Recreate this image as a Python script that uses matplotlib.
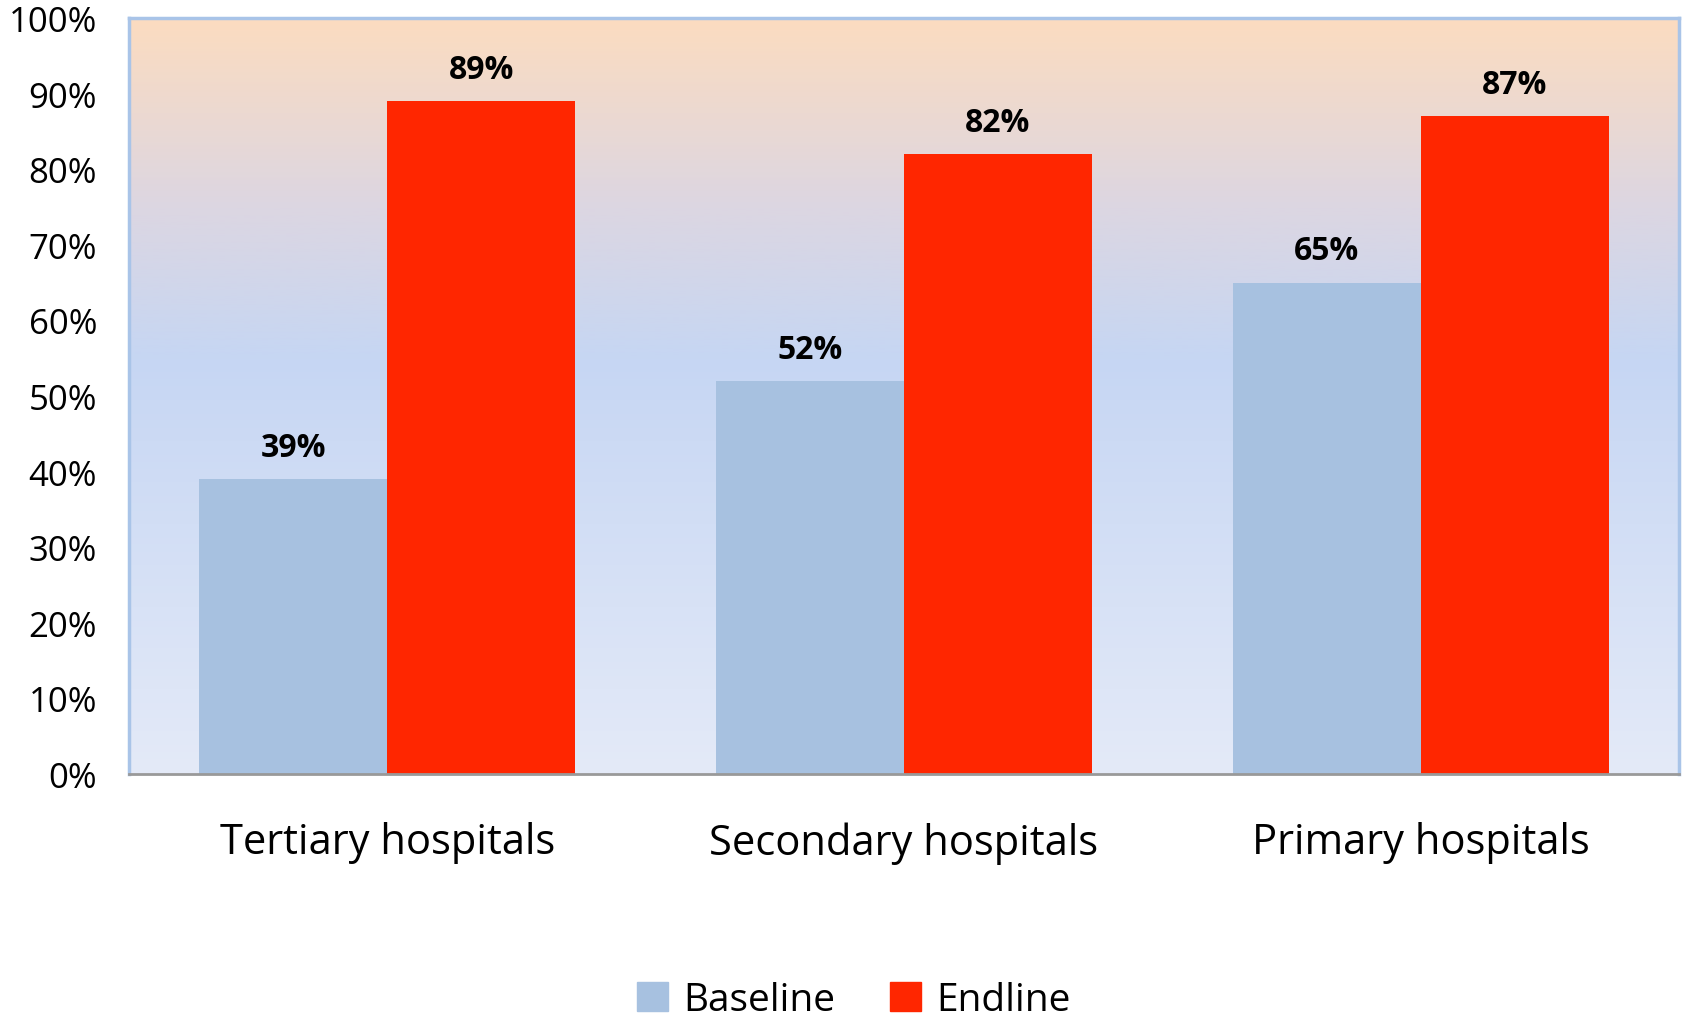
import numpy as np
import matplotlib
matplotlib.use("Agg")
import matplotlib.pyplot as plt
from matplotlib.colors import LinearSegmentedColormap
from matplotlib.patches import Patch

plt.rcParams['font.family'] = ['Open Sans', 'DejaVu Sans']

# Data
categories = ["Tertiary hospitals", "Secondary hospitals", "Primary hospitals"]
baseline = [39, 52, 65]
endline = [89, 82, 87]
series_names = ["Baseline", "Endline"]
yticks = list(range(0, 101, 10))

c_base = "#A7C1E0"
c_end = "#FF2600"

fig = plt.figure(figsize=(16.84, 10.2), dpi=100)
ax = fig.add_axes([129/1684, 1 - 775/1020, (1679-129)/1684, (775-19)/1020])

x = np.arange(len(categories))
w = 0.364

# gradient background (bottom -> top)
grad = LinearSegmentedColormap.from_list("bg", [
    (0.0, (228/255, 234/255, 248/255)),
    (0.55, (198/255, 214/255, 243/255)),
    (0.75, (220/255, 214/255, 226/255)),
    (1.0, (252/255, 220/255, 192/255)),
])
ax.imshow(np.linspace(0, 1, 256).reshape(-1, 1), cmap=grad, aspect='auto',
          origin='lower', extent=[-0.5, len(categories) - 0.5, 0, 100], zorder=0)

ax.bar(x - w/2, baseline, w, color=c_base, zorder=2)
ax.bar(x + w/2, endline, w, color=c_end, zorder=2)

for i in range(len(categories)):
    ax.text(x[i] - w/2, baseline[i] + 2.0, "%d%%" % baseline[i], ha='center', va='bottom',
            fontsize=23, fontweight='bold', zorder=3)
    ax.text(x[i] + w/2, endline[i] + 2.0, "%d%%" % endline[i], ha='center', va='bottom',
            fontsize=23, fontweight='bold', zorder=3)

ax.set_xlim(-0.5, len(categories) - 0.5)
ax.set_ylim(0, 100)
ax.set_yticks(yticks)
ax.set_yticklabels(["%d%%" % t for t in yticks], fontsize=25, va='top')
for lbl in ax.get_yticklabels():
    lbl.set_y(lbl.get_position()[1])
ax.set_xticks(x)
ax.set_xticklabels(categories, fontsize=30)
ax.tick_params(axis='both', length=0)
ax.tick_params(axis='x', pad=34)
ax.tick_params(axis='y', pad=23)
# nudge y labels slightly down like the original
for lbl in ax.get_yticklabels():
    lbl.set_verticalalignment('center')
    lbl.set_transform(lbl.get_transform() + matplotlib.transforms.ScaledTranslation(0, -4/100, fig.dpi_scale_trans))

for s in ['left', 'top', 'right']:
    ax.spines[s].set_color("#A9C4E8")
    ax.spines[s].set_linewidth(2.5)
ax.spines['bottom'].set_color("#999999")
ax.spines['bottom'].set_linewidth(2)

handles = [Patch(color=c_base), Patch(color=c_end)]
fig.legend(handles, series_names, loc='center', bbox_to_anchor=(854/1684, 1 - 1001/1020),
           ncol=2, frameon=False, fontsize=28, handlelength=0.8, handleheight=0.8,
           handletextpad=0.4, columnspacing=1.4)

fig.savefig("out.png", dpi=100)
